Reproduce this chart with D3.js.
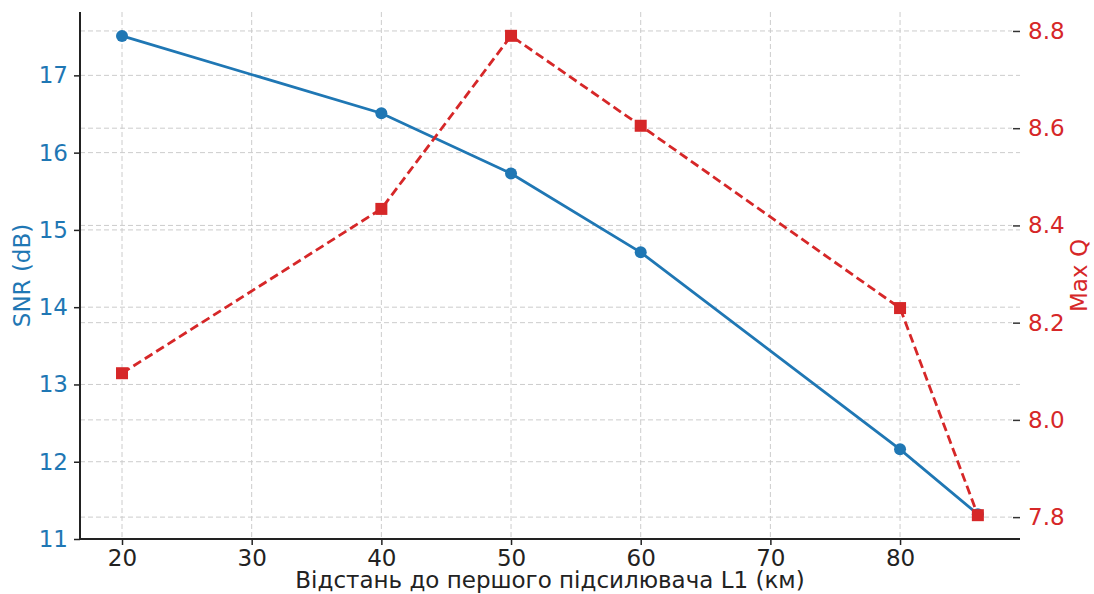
<!DOCTYPE html>
<html><head><meta charset="utf-8">
<script src="https://cdn.jsdelivr.net/npm/d3@7"></script>
<style>body{margin:0;background:#fff}svg{display:block}text{font-family:"DejaVu Sans",sans-serif}</style>
</head><body><svg id="c" width="1094" height="594"></svg>
<script>
const distances = [20, 40, 50, 60, 80, 86];
const snr = [17.51, 16.51, 15.73, 14.71, 12.16, 11.32];
const maxQ = [8.096, 8.434, 8.79, 8.605, 8.23, 7.804];
const xTicks = [20, 30, 40, 50, 60, 70, 80];
const snrTicks = [11, 12, 13, 14, 15, 16, 17];
const qTicks = [7.8, 8.0, 8.2, 8.4, 8.6, 8.8];
const xLabel = "Відстань до першого підсилювача L1 (км)";
const yLabelL = "SNR (dB)";
const yLabelR = "Max Q";
const blue = "#1f77b4", red = "#d62728";

const svg = d3.select("#c");
const L = 80, R = 1020, T = 12, B = 539;
const x = d3.scaleLinear().domain([16.76, 89.25]).range([L, R]);
const yL = d3.scaleLinear().domain([11, 17.82]).range([B, T]);
const yR = d3.scaleLinear().domain([7.755, 8.839]).range([B, T]);

const grid = svg.append("g").attr("stroke", "#cccccc").attr("stroke-width", 1).attr("stroke-dasharray", "5,3");
xTicks.forEach(t => grid.append("line").attr("x1", x(t)).attr("x2", x(t)).attr("y1", T).attr("y2", B));
snrTicks.forEach(t => grid.append("line").attr("x1", L).attr("x2", R).attr("y1", yL(t)).attr("y2", yL(t)));
qTicks.forEach(t => grid.append("line").attr("x1", L).attr("x2", R - 8).attr("y1", yR(t)).attr("y2", yR(t)));

// axes
const fs = "23px";
const gx = svg.append("g").attr("transform", `translate(0,${B})`)
  .call(d3.axisBottom(x).tickValues(xTicks).tickSize(6).tickPadding(5).tickFormat(d3.format("d")));
gx.select(".domain").attr("stroke", "#222").attr("stroke-width", 2).attr("d", `M${L},0H${R}`);
gx.selectAll(".tick line").attr("stroke", "#222").attr("stroke-width", 1.5);
gx.selectAll("text").attr("fill", "#222").style("font-size", fs).attr("font-family", "DejaVu Sans");

const gl = svg.append("g").attr("transform", `translate(${L},0)`)
  .call(d3.axisLeft(yL).tickValues(snrTicks).tickSize(6).tickPadding(6).tickFormat(d3.format("d")));
gl.select(".domain").attr("stroke", "#222").attr("stroke-width", 2).attr("d", `M0,${T}V${B}`);
gl.selectAll(".tick line").attr("stroke", "#222").attr("stroke-width", 1.5);
gl.selectAll("text").attr("fill", blue).style("font-size", fs).attr("font-family", "DejaVu Sans");

const gr = svg.append("g").attr("transform", `translate(${R},0)`)
  .call(d3.axisRight(yR).tickValues(qTicks).tickSize(0).tickPadding(8).tickFormat(d3.format(".1f")));
gr.select(".domain").remove();
gr.selectAll(".tick").append("line").attr("x1", -7).attr("x2", 0).attr("stroke", "#333").attr("stroke-width", 1.5);
gr.selectAll("text").attr("fill", red).style("font-size", fs).attr("font-family", "DejaVu Sans");

// lines
const lineL = d3.line().x((d, i) => x(distances[i])).y(d => yL(d));
const lineR = d3.line().x((d, i) => x(distances[i])).y(d => yR(d));
svg.append("path").datum(snr).attr("d", lineL).attr("fill", "none").attr("stroke", blue).attr("stroke-width", 2.8);
svg.selectAll(".cpt").data(snr).enter().append("circle")
  .attr("cx", (d, i) => x(distances[i])).attr("cy", d => yL(d)).attr("r", 6).attr("fill", blue);
svg.append("path").datum(maxQ).attr("d", lineR).attr("fill", "none").attr("stroke", red).attr("stroke-width", 2.8).attr("stroke-dasharray", "9,4.5");
svg.selectAll(".spt").data(maxQ).enter().append("rect")
  .attr("x", (d, i) => x(distances[i]) - 6).attr("y", d => yR(d) - 6).attr("width", 12).attr("height", 12).attr("fill", red);

// labels
svg.append("text").attr("x", (L + R) / 2).attr("y", 588).attr("text-anchor", "middle")
  .style("font-size", fs).attr("fill", "#222").text(xLabel);
svg.append("text").attr("transform", `translate(30,${(T + B) / 2}) rotate(-90)`).attr("text-anchor", "middle")
  .style("font-size", fs).attr("fill", blue).text(yLabelL);
svg.append("text").attr("transform", `translate(1087,${(T + B) / 2}) rotate(-90)`).attr("text-anchor", "middle")
  .style("font-size", fs).attr("fill", red).text(yLabelR);
</script></body></html>
